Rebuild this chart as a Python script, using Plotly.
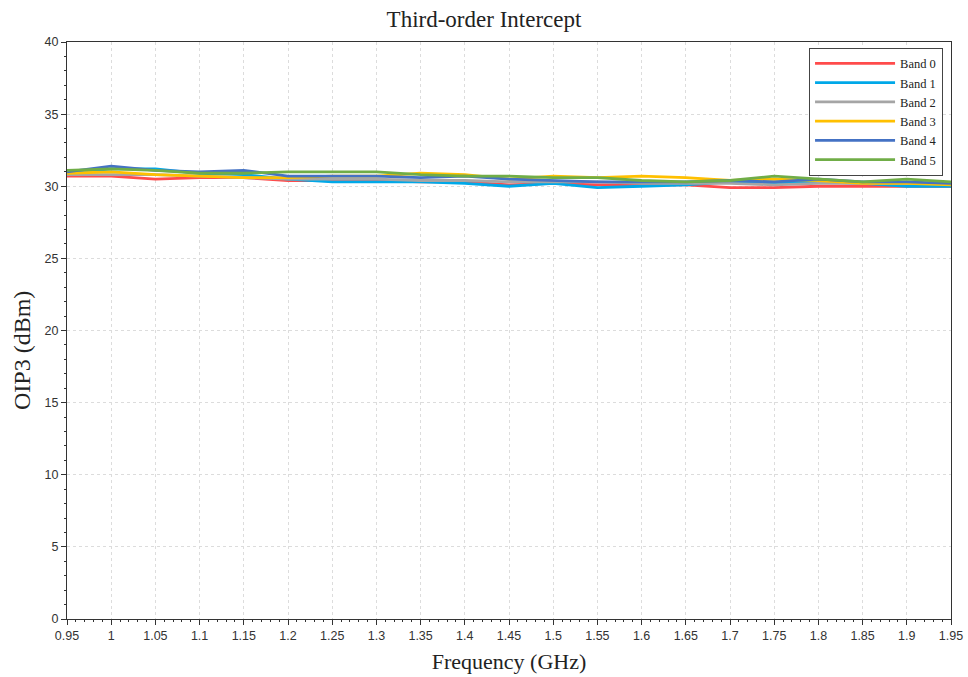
import plotly.graph_objects as go

freq = [0.95, 1.0, 1.05, 1.1, 1.15, 1.2, 1.25, 1.3, 1.35, 1.4, 1.45, 1.5, 1.55, 1.6, 1.65, 1.7, 1.75, 1.8, 1.85, 1.9, 1.95]

band0 = [30.7, 30.7, 30.5, 30.6, 30.6, 30.4, 30.4, 30.4, 30.3, 30.3, 30.1, 30.2, 30.1, 30.1, 30.1, 29.9, 29.9, 30.0, 30.0, 30.0, 30.0]
band1 = [30.9, 31.2, 31.2, 30.9, 30.8, 30.5, 30.3, 30.3, 30.3, 30.2, 30.0, 30.2, 29.9, 30.0, 30.1, 30.3, 30.2, 30.3, 30.2, 30.0, 30.0]
band2 = [30.8, 30.8, 30.8, 30.7, 30.6, 30.5, 30.5, 30.5, 30.4, 30.4, 30.3, 30.3, 30.3, 30.2, 30.2, 30.2, 30.1, 30.2, 30.2, 30.2, 30.2]
band3 = [30.9, 31.0, 30.8, 30.7, 30.6, 30.6, 30.7, 30.7, 30.9, 30.8, 30.5, 30.7, 30.6, 30.7, 30.6, 30.4, 30.5, 30.4, 30.2, 30.2, 30.1]
band4 = [31.0, 31.4, 31.1, 31.0, 31.1, 30.7, 30.7, 30.7, 30.6, 30.7, 30.5, 30.4, 30.3, 30.3, 30.3, 30.4, 30.3, 30.5, 30.3, 30.3, 30.2]
band5 = [31.1, 31.2, 31.1, 30.9, 30.9, 31.0, 31.0, 31.0, 30.8, 30.7, 30.7, 30.6, 30.6, 30.4, 30.3, 30.4, 30.7, 30.5, 30.3, 30.5, 30.3]

names = ["Band 0", "Band 1", "Band 2", "Band 3", "Band 4", "Band 5"]
series = [band0, band1, band2, band3, band4, band5]
colors = ["#ff4b4b", "#00a8e8", "#a5a5a5", "#ffc000", "#4472c4", "#70ad47"]

x_ticks = [0.95, 1.0, 1.05, 1.1, 1.15, 1.2, 1.25, 1.3, 1.35, 1.4, 1.45, 1.5, 1.55, 1.6, 1.65, 1.7, 1.75, 1.8, 1.85, 1.9, 1.95]
x_ticktext = ["0.95", "1", "1.05", "1.1", "1.15", "1.2", "1.25", "1.3", "1.35", "1.4", "1.45", "1.5", "1.55", "1.6", "1.65", "1.7", "1.75", "1.8", "1.85", "1.9", "1.95"]

fig = go.Figure()
for name, ys, c in zip(names, series, colors):
    fig.add_trace(go.Scatter(x=freq, y=ys, mode="lines", name=name,
                             line=dict(color=c, width=2.8)))

serif = "Liberation Serif"
sans = "Liberation Sans"

common_axis = dict(
    showgrid=True, gridcolor="#dcdcdc", griddash="dot", gridwidth=1,
    showline=True, linecolor="#333", linewidth=1.2, mirror=True,
    ticks="outside", ticklen=5, tickcolor="#333",
    tickfont=dict(family=sans, size=12.5, color="#333"),
    zeroline=False, automargin=False,
)

fig.update_layout(
    width=968, height=677,
    margin=dict(l=67, r=17, t=42, b=58),
    paper_bgcolor="white", plot_bgcolor="white",
    title=dict(text="Third-order Intercept", x=0.5, xanchor="center", y=0.984, yanchor="top",
               font=dict(family=serif, size=23, color="#222")),
    showlegend=True,
    legend=dict(x=0.991, y=0.99, xanchor="right", yanchor="top",
                bordercolor="#444", borderwidth=1, bgcolor="white",
                font=dict(family=serif, size=12.5, color="#222"),
                itemwidth=80, tracegroupgap=0),
    xaxis=dict(range=[0.95, 1.95], tickvals=x_ticks, ticktext=x_ticktext,
               minor=dict(dtick=0.01, ticks="outside", ticklen=2, tickcolor="#333", showgrid=False),
               title=dict(text="Frequency (GHz)", font=dict(family=serif, size=22, color="#222"), standoff=11),
               **common_axis),
    yaxis=dict(range=[0, 40], dtick=5,
               minor=dict(dtick=1, ticks="outside", ticklen=2, tickcolor="#333", showgrid=False),
               **common_axis),
    annotations=[dict(text="OIP3 (dBm)", textangle=-90, xref="paper", yref="paper",
                      x=-0.0509, y=0.4645, xanchor="center", yanchor="middle", showarrow=False,
                      font=dict(family=serif, size=24, color="#222"))],
)

fig.write_html("out.html")
